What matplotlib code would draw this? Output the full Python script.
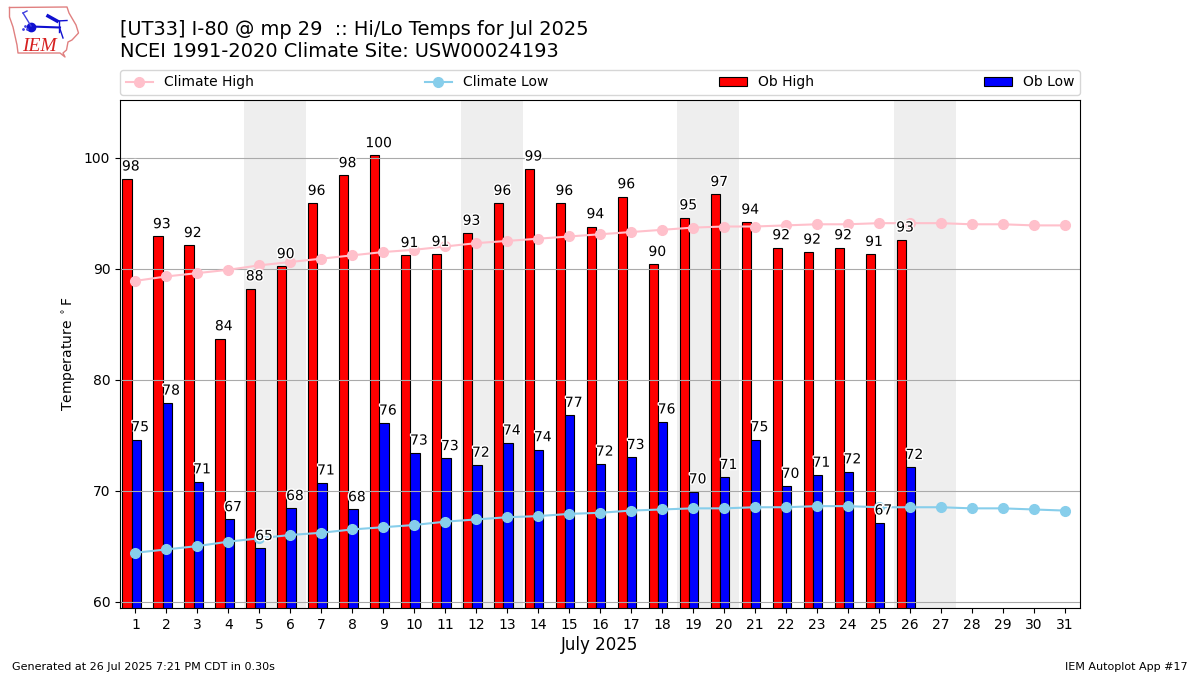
"""Hi/Lo temperatures for July 2025 at UT33, with climatology lines."""

import matplotlib

matplotlib.use("Agg")
import matplotlib.patheffects as PathEffects
import matplotlib.pyplot as plt
import numpy as np


days = list(range(1, 32))
ob_days = list(range(1, 27))
weekend_starts = [5, 12, 19, 26]
climate_high = [88.9, 89.3, 89.6, 89.9, 90.3, 90.6, 90.9, 91.2, 91.5, 91.7, 92.0,
                92.3, 92.5, 92.7, 92.9, 93.1, 93.3, 93.5, 93.7, 93.8, 93.8, 93.9,
                94.0, 94.0, 94.1, 94.1, 94.1, 94.0, 94.0, 93.9, 93.9]
climate_low = [64.4, 64.7, 65.0, 65.4, 65.7, 66.0, 66.2, 66.5, 66.7, 66.9, 67.2,
               67.4, 67.6, 67.7, 67.9, 68.0, 68.2, 68.3, 68.4, 68.4, 68.5, 68.5,
               68.6, 68.6, 68.5, 68.5, 68.5, 68.4, 68.4, 68.3, 68.2]
ob_high = [98.1, 92.9, 92.1, 83.7, 88.2, 90.2, 95.9, 98.4, 100.2, 91.2, 91.3, 93.2,
           95.9, 99.0, 95.9, 93.8, 96.5, 90.4, 94.6, 96.7, 94.2, 91.9, 91.5, 91.9,
           91.3, 92.6]
ob_low = [74.6, 77.9, 70.8, 67.4, 64.8, 68.4, 70.7, 68.3, 76.1, 73.4, 72.9, 72.3,
          74.3, 73.7, 76.8, 72.4, 73.0, 76.2, 69.9, 71.2, 74.6, 70.4, 71.4, 71.7,
          67.1, 72.1]
y_ticks = [60, 70, 80, 90, 100]

fig = plt.figure(figsize=(12, 6.75), dpi=100)
ax = fig.add_axes([120 / 1200, 1 - 608 / 675, 960 / 1200, 508 / 675])

# Weekend shading
for start in weekend_starts:
    ax.axvspan(start - 0.5, start + 1.5, color="#eeeeee", lw=0, zorder=0)

x = np.array(ob_days)
ax.bar(x - 0.275, ob_high, width=0.3, color="red", edgecolor="k", linewidth=0.8,
       label="Ob High", zorder=1)
ax.bar(x + 0.025, ob_low, width=0.3, color="blue", edgecolor="k", linewidth=0.8,
       label="Ob Low", zorder=1)
ax.plot(days, climate_high, color="pink", marker="o", markersize=7, lw=1.5,
        label="Climate High", zorder=2)
ax.plot(days, climate_low, color="skyblue", marker="o", markersize=7, lw=1.5,
        label="Climate Low", zorder=2)

# Value labels, with a white halo so they stay readable over the lines
halo = [PathEffects.withStroke(linewidth=2, foreground="white")]
for day, hi, lo in zip(ob_days, ob_high, ob_low):
    ax.text(day - 0.15, hi + 0.75, f"{hi:.0f}", ha="center", va="baseline",
            fontsize=10, color="k", path_effects=halo, zorder=5)
    ax.text(day + 0.15, lo + 0.75, f"{lo:.0f}", ha="center", va="baseline",
            fontsize=10, color="k", path_effects=halo, zorder=5)

ax.set_xlim(0.5, 31.5)
ax.set_ylim(59.42, 105.2)
ax.set_xticks(days)
ax.set_yticks(y_ticks)
ax.grid(True, axis="y", color="#aaaaaa", lw=0.8)
ax.set_xlabel("July 2025", fontsize=12, labelpad=3)
ax.set_ylabel(r"Temperature $^\circ$F", fontsize=10)

handles, labels = ax.get_legend_handles_labels()
order = [labels.index(n) for n in ["Climate High", "Climate Low", "Ob High", "Ob Low"]]
ax.legend([handles[i] for i in order], [labels[i] for i in order], ncol=4,
          mode="expand", loc="lower left", bbox_to_anchor=(0, 1.01, 1, 0.05),
          borderaxespad=0, fontsize=10)

fig.text(120 / 1200, 1 - 35 / 675, "[UT33] I-80 @ mp 29  :: Hi/Lo Temps for Jul 2025",
         fontsize=13.93, va="baseline")
fig.text(120 / 1200, 1 - 57 / 675, "NCEI 1991-2020 Climate Site: USW00024193",
         fontsize=13.93, va="baseline")
fig.text(12 / 1200, 1 - 670 / 675, "Generated at 26 Jul 2025 7:21 PM CDT in 0.30s",
         fontsize=8, va="baseline")
fig.text(1188 / 1200, 1 - 670 / 675, "IEM Autoplot App #17", fontsize=8,
         ha="right", va="baseline")

# Rough IEM logo, drawn in figure pixels
logo = fig.add_axes([0, 0, 1, 1], zorder=-1)
logo.set_xlim(0, 1200)
logo.set_ylim(675, 0)
logo.axis("off")
outline_x = [9.5, 67, 69, 76, 78.5, 72, 68, 66.5, 63, 65, 60, 18, 17, 13, 9.5, 9.5]
outline_y = [7.5, 7, 13, 25, 33, 40, 42, 50, 53, 57, 53, 53, 45, 27, 17, 7.5]
logo.plot(outline_x, outline_y, color="#e08080", lw=1)
logo.plot([31, 60], [26.5, 27.5], color="#1010d0", lw=1.5)
logo.plot([31], [26.5], "o", color="#1010d0", ms=6)
logo.plot([23, 31], [13, 26], color="#4040e0", lw=1)
logo.plot([23, 27], [13, 11], color="#4040e0", lw=1)
logo.plot([48, 57], [16, 21], color="#1010d0", lw=2.5)
logo.plot([57, 67], [21, 20.5], color="#1010d0", lw=1)
logo.plot([59, 59], [21, 32], color="#1010d0", lw=1)
logo.plot([60, 63], [29, 38], color="#1010d0", lw=1)
logo.plot([23, 25, 27], [29, 26, 29], ".", color="#4040e0", ms=2)
logo.text(22, 51, "IEM", color="#d62020", fontsize=14, style="italic",
          family="Liberation Serif", va="baseline")

fig.savefig("out.png", dpi=100)
